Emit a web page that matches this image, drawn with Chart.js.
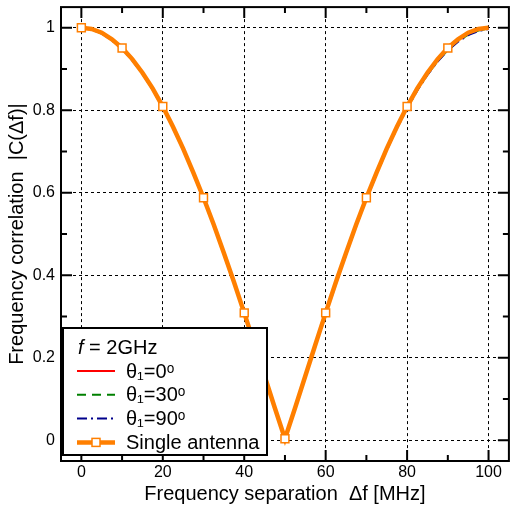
<!DOCTYPE html>
<html>
<head>
<meta charset="utf-8">
<script src="https://cdn.jsdelivr.net/npm/chart.js@4/dist/chart.umd.min.js"></script>
<style>
  body { margin: 0; background: #fff; }
  #wrap { width: 516px; height: 509px; }
</style>
</head>
<body>
<div id="wrap"><canvas id="chart"></canvas></div>
<script>
// frequency separation in MHz
const freq = [0, 2.5, 5, 7.5, 10, 12.5, 15, 17.5, 20, 22.5, 25, 27.5, 30, 32.5, 35, 37.5, 40, 42.5, 45, 47.5,
  50, 52.5, 55, 57.5, 60, 62.5, 65, 67.5, 70, 72.5, 75, 77.5, 80, 82.5, 85, 87.5, 90, 92.5, 95, 97.5, 100];

// |C(df)|
const single = [1, 0.997, 0.988, 0.972, 0.951, 0.924, 0.891, 0.853, 0.809, 0.760, 0.707, 0.649, 0.588, 0.523, 0.454, 0.383, 0.309, 0.233, 0.156, 0.079,
  0.004, 0.079, 0.156, 0.233, 0.309, 0.383, 0.454, 0.523, 0.588, 0.649, 0.707, 0.760, 0.809, 0.853, 0.891, 0.924, 0.951, 0.972, 0.988, 0.997, 1];
const theta0 = [1, 0.997, 0.987, 0.971, 0.950, 0.923, 0.890, 0.852, 0.808, 0.759, 0.706, 0.648, 0.587, 0.522, 0.453, 0.382, 0.308, 0.232, 0.155, 0.078,
  0.004, 0.078, 0.155, 0.232, 0.308, 0.382, 0.453, 0.522, 0.587, 0.648, 0.706, 0.759, 0.808, 0.852, 0.890, 0.923, 0.950, 0.971, 0.987, 0.996, 0.999];
const theta30 = [1, 0.996, 0.986, 0.970, 0.949, 0.922, 0.889, 0.851, 0.807, 0.758, 0.705, 0.647, 0.586, 0.521, 0.452, 0.381, 0.307, 0.231, 0.155, 0.078,
  0.004, 0.078, 0.154, 0.231, 0.306, 0.380, 0.451, 0.520, 0.585, 0.646, 0.704, 0.757, 0.805, 0.849, 0.887, 0.919, 0.946, 0.967, 0.983, 0.993, 0.998];
const theta90 = [1, 0.996, 0.986, 0.969, 0.948, 0.921, 0.888, 0.850, 0.806, 0.757, 0.704, 0.646, 0.585, 0.520, 0.451, 0.380, 0.306, 0.231, 0.154, 0.077,
  0.004, 0.077, 0.153, 0.230, 0.305, 0.379, 0.450, 0.519, 0.584, 0.645, 0.703, 0.756, 0.804, 0.848, 0.886, 0.918, 0.945, 0.966, 0.982, 0.992, 0.997];

// tick positions (minor + major) and labelled values
const xTickVals = [0, 10, 20, 30, 40, 50, 60, 70, 80, 90, 100];
const yTickVals = [0, 0.1, 0.2, 0.3, 0.4, 0.5, 0.6, 0.7, 0.8, 0.9, 1];
const xLabels = [0, 20, 40, 60, 80, 100];
const yLabels = [0, 0.2, 0.4, 0.6, 0.8, 1];
const seriesNames = ["θ₁=0ᵒ", "θ₁=30ᵒ", "θ₁=90ᵒ", "Single antenna"];
const legendTitle = "2GHz";

const FONT = "'Liberation Sans', Arial, sans-serif";
const pts = (ys) => freq.map((f, i) => ({ x: f, y: ys[i] }));
const isMajorX = (v) => xLabels.includes(v);
const isMajorY = (v) => yLabels.includes(Math.round(v * 10) / 10);

const frameAndLegend = {
  id: "frameAndLegend",
  afterDraw(chart) {
    const ctx = chart.ctx;
    const a = chart.chartArea;
    const xs = chart.scales.x, ys = chart.scales.y;
    ctx.save();
    // inward ticks on all four sides
    ctx.strokeStyle = "#000";
    ctx.lineWidth = 2;
    ctx.beginPath();
    xs.ticks.forEach((t) => {
      const px = xs.getPixelForValue(t.value);
      const len = isMajorX(t.value) ? 11 : 6;
      ctx.moveTo(px, a.top); ctx.lineTo(px, a.top + len);
      ctx.moveTo(px, a.bottom); ctx.lineTo(px, a.bottom - len);
    });
    ys.ticks.forEach((t) => {
      const py = ys.getPixelForValue(t.value);
      const len = isMajorY(t.value) ? 11 : 6;
      ctx.moveTo(a.left, py); ctx.lineTo(a.left + len, py);
      ctx.moveTo(a.right, py); ctx.lineTo(a.right - len, py);
    });
    ctx.stroke();
    ctx.strokeRect(a.left, a.top, a.right - a.left, a.bottom - a.top);

    // legend box in lower-left corner
    const bx = a.left + 2, bw = 204, bh = 127, by = a.bottom - 6 - bh;
    ctx.fillStyle = "#fff";
    ctx.fillRect(bx, by, bw, bh);
    ctx.lineWidth = 2;
    ctx.strokeRect(bx, by, bw, bh);

    ctx.fillStyle = "#000";
    ctx.textBaseline = "middle";
    ctx.font = "italic 20px " + FONT;
    ctx.fillText("f", bx + 15, by + 20);
    const fw = ctx.measureText("f").width;
    ctx.font = "20px " + FONT;
    ctx.fillText(" = " + legendTitle, bx + 15 + fw, by + 20);

    chart.data.datasets.forEach((ds, r) => {
      const cy = by + 43 + r * 23.8;
      ctx.save();
      ctx.strokeStyle = ds.borderColor;
      ctx.lineWidth = ds.borderWidth;
      ctx.setLineDash(ds.borderDash || []);
      ctx.beginPath();
      ctx.moveTo(bx + 14, cy);
      ctx.lineTo(bx + 52, cy);
      ctx.stroke();
      ctx.restore();
      if (ds.pointStyle === "rect") {
        ctx.fillStyle = "#fff";
        ctx.strokeStyle = ds.borderColor;
        ctx.lineWidth = 1.5;
        ctx.fillRect(bx + 29, cy - 4, 8, 8);
        ctx.strokeRect(bx + 29, cy - 4, 8, 8);
      }
      ctx.fillStyle = "#000";
      ctx.font = "20px " + FONT;
      ctx.fillText(ds.label, bx + 63, cy + 1);
    });
    ctx.restore();
  }
};

new Chart(document.getElementById("chart"), {
  type: "line",
  data: {
    datasets: [
      { label: seriesNames[0], data: pts(theta0), borderColor: "#ff0000", borderWidth: 2, pointRadius: 0, order: 3 },
      { label: seriesNames[1], data: pts(theta30), borderColor: "#008000", borderWidth: 2, borderDash: [9, 6], pointRadius: 0, order: 2 },
      { label: seriesNames[2], data: pts(theta90), borderColor: "#00008b", borderWidth: 2, borderDash: [10, 4, 2, 4], pointRadius: 0, order: 1 },
      {
        label: seriesNames[3], data: pts(single), borderColor: "#ff7f00", borderWidth: 4.5, order: 0,
        pointStyle: "rect", backgroundColor: "#fff", pointBackgroundColor: "#fff", pointBorderWidth: 1.5,
        pointRadius: (c) => (c.raw && c.raw.x % 10 === 0 && c.raw.x < 100 ? 5.6 : 0)
      }
    ]
  },
  options: {
    responsive: true,
    maintainAspectRatio: false,
    animation: false,
    layout: { padding: { top: 5, right: 1, left: 0, bottom: 0 } },
    plugins: { legend: { display: false }, tooltip: { enabled: false } },
    scales: {
      x: {
        type: "linear", min: -5, max: 105,
        afterBuildTicks: (s) => { s.ticks = xTickVals.map((v) => ({ value: v })); },
        afterFit: (s) => { s.height = 48; s.paddingLeft = 0; s.paddingRight = 0; },
        ticks: {
          autoSkip: false, maxRotation: 0, padding: 2, color: "#000",
          font: { family: FONT, size: 16 },
          callback: (v) => (xLabels.includes(v) ? String(v) : "")
        },
        grid: {
          drawTicks: false, lineWidth: 1,
          color: (c) => (c.tick && isMajorX(c.tick.value) ? "#000" : "rgba(0,0,0,0)")
        },
        border: { display: false, dash: [3, 3] },
        title: {
          display: true, text: "Frequency separation  Δf [MHz]", color: "#000",
          font: { family: FONT, size: 20 }, padding: { top: 0, bottom: 3 }
        }
      },
      y: {
        min: -0.05, max: 1.05,
        afterBuildTicks: (s) => { s.ticks = yTickVals.map((v) => ({ value: v })); },
        afterFit: (s) => { s.width = 61; s.paddingTop = 0; s.paddingBottom = 0; },
        ticks: {
          autoSkip: false, padding: 6, color: "#000",
          font: { family: FONT, size: 16 },
          callback: (v) => {
            const r = Math.round(v * 10) / 10;
            return yLabels.includes(r) ? String(r) : "";
          }
        },
        grid: {
          drawTicks: false, lineWidth: 1,
          color: (c) => (c.tick && isMajorY(c.tick.value) ? "#000" : "rgba(0,0,0,0)")
        },
        border: { display: false, dash: [3, 3] },
        title: {
          display: true, text: "Frequency correlation  |C(Δf)|", color: "#000",
          font: { family: FONT, size: 20 }, padding: { top: 5, bottom: 0 }
        }
      }
    }
  },
  plugins: [frameAndLegend]
});
</script>
</body>
</html>
